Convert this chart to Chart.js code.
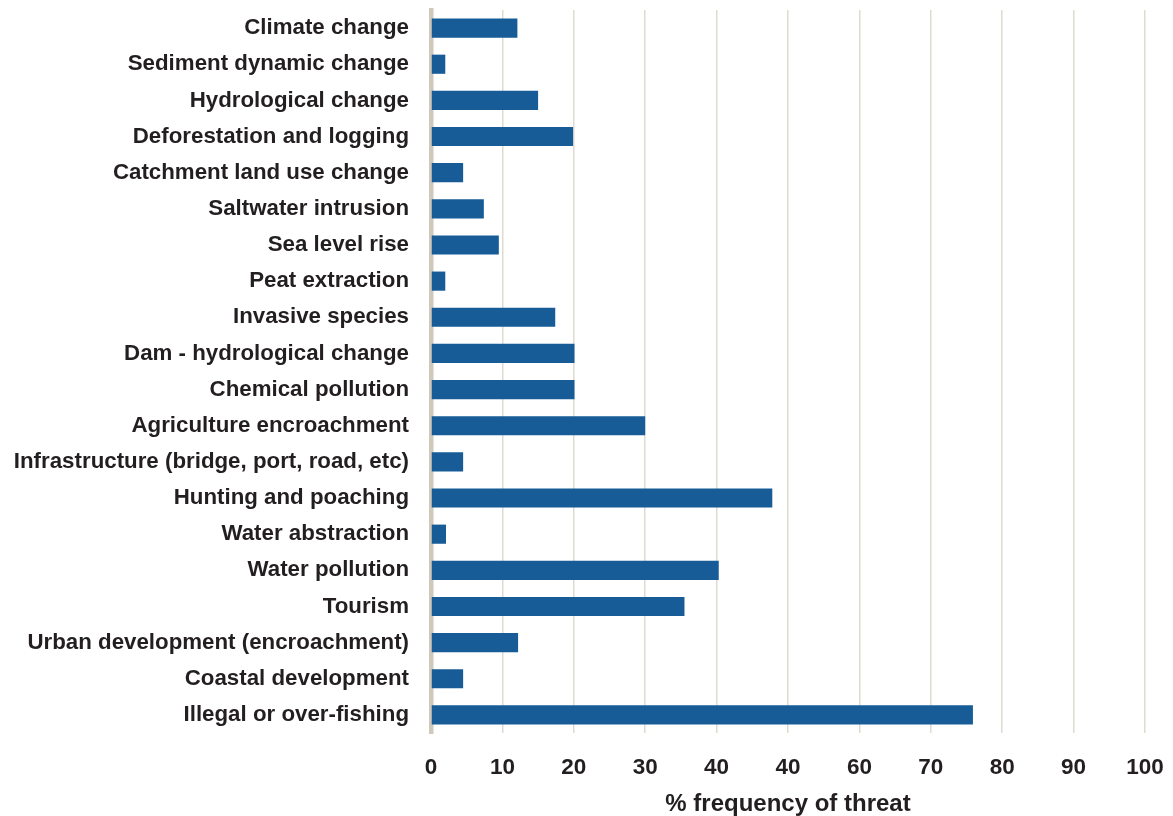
<!DOCTYPE html>
<html>
<head>
<meta charset="utf-8">
<script src="https://cdn.jsdelivr.net/npm/chart.js@4/dist/chart.umd.min.js"></script>
<style>
  html, body { margin: 0; padding: 0; background: #fff; }
  #wrap { width: 1173px; height: 816px; }
</style>
</head>
<body>
<div id="wrap"><canvas id="myChart" width="1173" height="816"></canvas></div>
<script>
var threats = [
  'Climate change',
  'Sediment dynamic change',
  'Hydrological change',
  'Deforestation and logging',
  'Catchment land use change',
  'Saltwater intrusion',
  'Sea level rise',
  'Peat extraction',
  'Invasive species',
  'Dam - hydrological change',
  'Chemical pollution',
  'Agriculture encroachment',
  'Infrastructure (bridge, port, road, etc)',
  'Hunting and poaching',
  'Water abstraction',
  'Water pollution',
  'Tourism',
  'Urban development (encroachment)',
  'Coastal development',
  'Illegal or over-fishing'
];
var frequency = [12.1, 2.0, 15.0, 19.9, 4.5, 7.4, 9.5, 2.0, 17.4, 20.1, 20.1, 30.0, 4.5, 47.8, 2.1, 40.3, 35.5, 12.2, 4.5, 75.9];
var xTicks = [0, 10, 20, 30, 40, 50, 60, 70, 80, 90, 100];
// tick labels as printed in the original figure (the 50 mark reads "40")
var xTickLabels = ['0', '10', '20', '30', '40', '40', '60', '70', '80', '90', '100'];
var axisTitle = '% frequency of threat';

var textColor = '#231f20';
var fontFamily = '"Liberation Sans", Arial, Helvetica, sans-serif';

var ctx = document.getElementById('myChart').getContext('2d');
var chart = new Chart(ctx, {
  type: 'bar',
  data: {
    labels: threats,
    datasets: [{
      label: axisTitle,
      data: frequency,
      backgroundColor: '#175c97',
      borderWidth: 0,
      categoryPercentage: 1,
      barPercentage: 0.53
    }]
  },
  options: {
    indexAxis: 'y',
    responsive: false,
    animation: false,
    devicePixelRatio: 1,
    layout: { padding: { top: 10, right: 28, bottom: 0, left: 0 } },
    plugins: {
      legend: { display: false },
      tooltip: { enabled: false }
    },
    scales: {
      x: {
        min: 0,
        max: 100,
        afterBuildTicks: function (scale) {
          scale.ticks = xTicks.map(function (v) { return { value: v }; });
        },
        afterFit: function (scale) {
          scale.height = 83;
          scale.paddingLeft = 0;
          scale.paddingRight = 0;
        },
        grid: { color: '#e0dbd0', lineWidth: 1.5, drawTicks: false },
        border: { display: false },
        ticks: {
          color: textColor,
          padding: 21,
          callback: function (value, index) { return xTickLabels[index]; },
          font: { family: fontFamily, size: 22.5, weight: 'bold' }
        },
        title: {
          display: true,
          text: axisTitle,
          color: textColor,
          padding: { top: 0, bottom: -3 },
          font: { family: fontFamily, size: 24, weight: 'bold' }
        }
      },
      y: {
        z: 1,
        grid: { display: false, drawTicks: false },
        border: { display: true, color: '#d0c8bb', width: 4.5 },
        afterFit: function (scale) {
          scale.width = 431;
          scale.paddingTop = 0;
          scale.paddingBottom = 0;
        },
        ticks: {
          color: textColor,
          padding: 22,
          autoSkip: false,
          font: { family: fontFamily, size: 22.3, weight: 'bold' }
        }
      }
    }
  }
});
</script>
</body>
</html>
